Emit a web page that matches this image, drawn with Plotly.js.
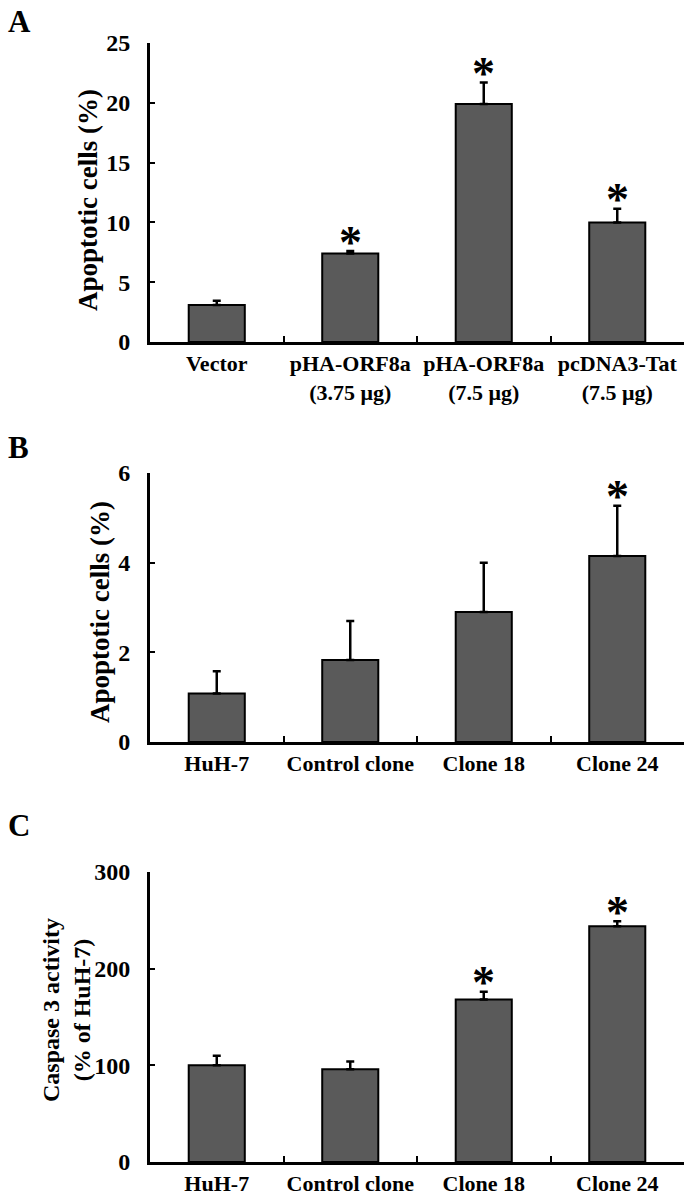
<!DOCTYPE html>
<html><head><meta charset="utf-8">
<script src="https://cdn.plot.ly/plotly-3.0.1.min.js"></script>
<style>html,body{margin:0;padding:0;background:#fff}</style>
</head><body><div id="chart" style="width:693px;height:1199px"></div>
<script>
// Panel A
const catsA = ['Vector', 'pHA-ORF8a<br>(3.75 μg)', 'pHA-ORF8a<br>(7.5 μg)', 'pcDNA3-Tat<br>(7.5 μg)'];
const valsA = [3.1, 7.4, 19.9, 10.0];
const errA = [0.35, 0.2, 1.8, 1.15];
const sigA = [false, true, true, true];
// Panel B
const catsB = ['HuH-7', 'Control clone', 'Clone 18', 'Clone 24'];
const valsB = [1.08, 1.83, 2.9, 4.15];
const errB = [0.5, 0.87, 1.1, 1.12];
const sigB = [false, false, false, true];
// Panel C
const catsC = ['HuH-7', 'Control clone', 'Clone 18', 'Clone 24'];
const valsC = [100, 96, 168, 244];
const errC = [10, 8, 8, 5];
const sigC = [false, false, true, true];

const FONT = 'Liberation Serif, Times New Roman, serif';
const barColor = '#5a5a5a';

function barTrace(cats, vals, errs, xa, ya) {
  return {
    type: 'bar', x: cats, y: vals, xaxis: xa, yaxis: ya, width: 0.42,
    marker: {color: barColor, line: {color: '#000', width: 2}},
    error_y: {type: 'data', symmetric: false, array: errs, arrayminus: errs.map(() => 0),
              color: '#000', thickness: 2.5, width: 4},
    showlegend: false, hoverinfo: 'skip'
  };
}
function starAnnotations(cats, vals, errs, sig, xa, ya) {
  const out = [];
  cats.forEach((c, i) => {
    if (sig[i]) out.push({
      text: '<b>*</b>', x: c, y: vals[i] + errs[i], xref: xa, yref: ya,
      xanchor: 'center', yanchor: 'middle', yshift: 9, showarrow: false,
      font: {family: FONT, size: 46, color: '#000'}
    });
  });
  return out;
}

const data = [
  barTrace(catsA, valsA, errA, 'x', 'y'),
  barTrace(catsB, valsB, errB, 'x2', 'y2'),
  barTrace(catsC, valsC, errC, 'x3', 'y3')
];

const H = 1199, W = 693;
const py = p => 1 - p / H;
const px = p => p / W;
const xdom = [px(150), px(684)];

function xaxis(anchor) {
  return {
    domain: xdom, anchor: anchor, type: 'category', range: [-0.5, 3.5],
    showline: true, linecolor: '#000', linewidth: 3, mirror: false,
    ticks: 'inside', tickson: 'boundaries', ticklen: 6, tickwidth: 2, tickcolor: '#000',
    showgrid: false, zeroline: false, fixedrange: true, tickangle: 0,
    tickfont: {family: FONT, size: 22, color: '#000', weight: 'bold'}
  };
}
function yaxis(anchor, dom, range, dtick, size) {
  return {
    domain: dom, anchor: anchor, range: range, dtick: dtick,
    showline: true, linecolor: '#000', linewidth: 3,
    ticks: 'inside', ticklen: 5, tickwidth: 2, tickcolor: '#000',
    showgrid: false, zeroline: false, fixedrange: true, ticklabelstandoff: 12,
    tickfont: {family: FONT, size: size, color: '#000', weight: 'bold'}
  };
}

const labelAnn = [
  {text: '<b>A</b>', xref: 'paper', yref: 'paper', x: px(6), y: py(21), xanchor: 'left', yanchor: 'middle',
   showarrow: false, font: {family: FONT, size: 31, color: '#000'}},
  {text: '<b>B</b>', xref: 'paper', yref: 'paper', x: px(6), y: py(447), xanchor: 'left', yanchor: 'middle',
   showarrow: false, font: {family: FONT, size: 31, color: '#000'}},
  {text: '<b>C</b>', xref: 'paper', yref: 'paper', x: px(6), y: py(825), xanchor: 'left', yanchor: 'middle',
   showarrow: false, font: {family: FONT, size: 31, color: '#000'}},
  {text: '<b>Apoptotic cells (%)</b>', xref: 'paper', yref: 'paper', x: px(88), y: py(200), textangle: -90,
   xanchor: 'center', yanchor: 'middle', showarrow: false, font: {family: FONT, size: 27, color: '#000'}},
  {text: '<b>Apoptotic cells (%)</b>', xref: 'paper', yref: 'paper', x: px(100), y: py(612), textangle: -90,
   xanchor: 'center', yanchor: 'middle', showarrow: false, font: {family: FONT, size: 27, color: '#000'}},
  {text: '<b>Caspase 3 activity<br>(% of HuH-7)</b>', xref: 'paper', yref: 'paper', x: px(66), y: py(1010), textangle: -90,
   xanchor: 'center', yanchor: 'middle', showarrow: false, font: {family: FONT, size: 24, color: '#000'}}
];

const layout = {
  width: W, height: H, margin: {l: 0, r: 0, t: 0, b: 0},
  paper_bgcolor: '#fff', plot_bgcolor: '#fff', bargap: 0.58,
  xaxis: xaxis('y'), yaxis: yaxis('x', [py(342), py(43)], [0, 25], 5, 24),
  xaxis2: xaxis('y2'), yaxis2: yaxis('x2', [py(742), py(473)], [0, 6], 2, 24),
  xaxis3: xaxis('y3'), yaxis3: yaxis('x3', [py(1162), py(872)], [0, 300], 100, 24),
  annotations: labelAnn
    .concat(starAnnotations(catsA, valsA, errA, sigA, 'x', 'y'))
    .concat(starAnnotations(catsB, valsB, errB, sigB, 'x2', 'y2'))
    .concat(starAnnotations(catsC, valsC, errC, sigC, 'x3', 'y3'))
};

Plotly.newPlot('chart', data, layout, {staticPlot: true, displayModeBar: false});
</script></body></html>
